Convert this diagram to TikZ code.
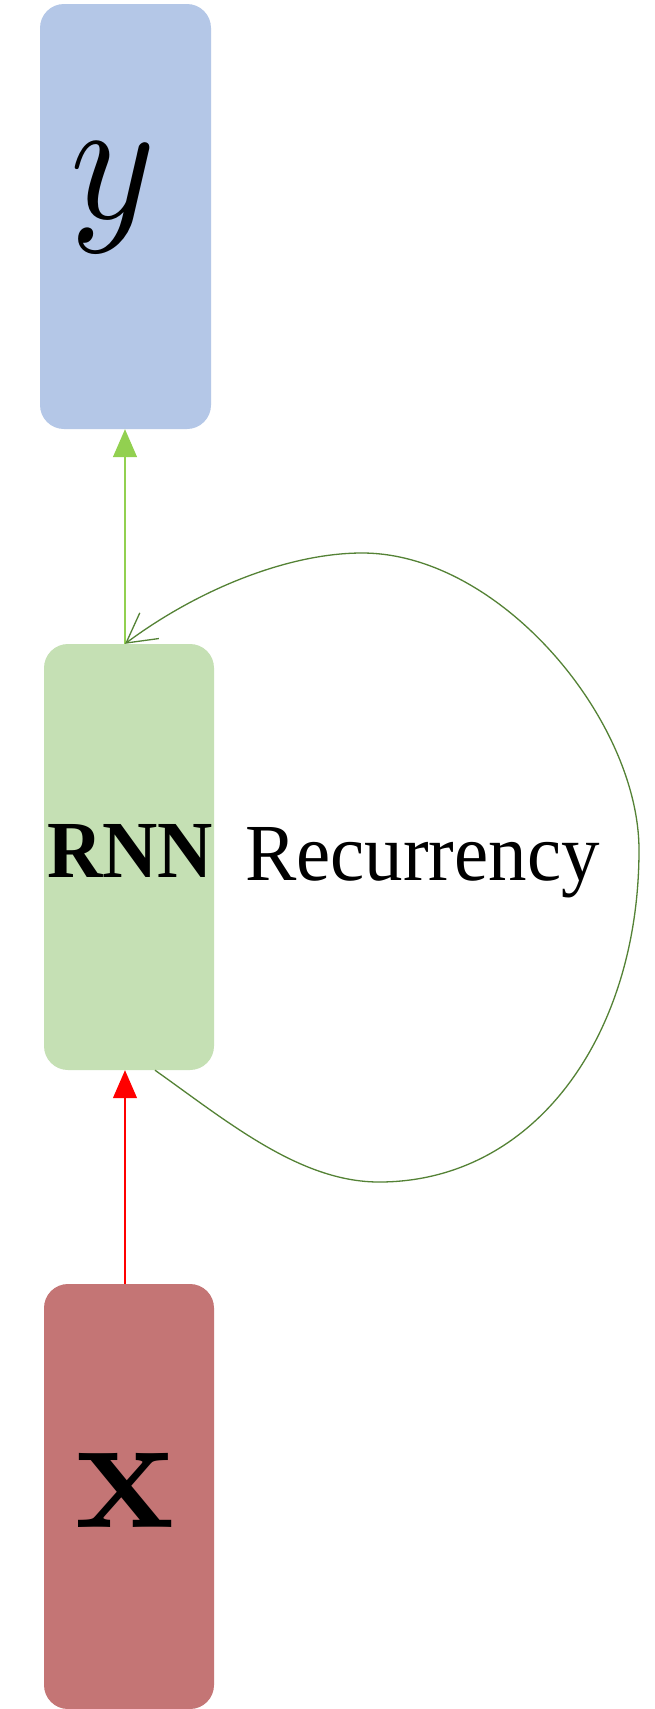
\documentclass[tikz,border=0pt]{standalone}
\usepackage{fontspec}
\setmainfont{Liberation Serif}
\newfontfamily\lmroman{Latin Modern Roman}
\newfontfamily\lmmath{Latin Modern Math}
\usetikzlibrary{arrows.meta}
\definecolor{ybox}{RGB}{180,199,231}
\definecolor{rnnbox}{RGB}{197,224,180}
\definecolor{xboxc}{RGB}{196,117,117}
\definecolor{lgreen}{RGB}{146,208,80}
\definecolor{dgreen}{RGB}{84,130,53}
\tikzset{
  unitbox/.style={rounded corners=24pt, inner sep=0pt, draw=none, minimum width=170pt, minimum height=425pt},
  lbl/.style={inner sep=0pt, text=black},
  uparrow/.style={line width=1.3pt, -{Triangle[length=28pt,width=24pt]}},
  recur/.style={draw=dgreen, line width=1.3pt, -{Straight Barb[length=29pt,width=32pt,line width=1.3pt]}}
}
\begin{document}
\begin{tikzpicture}[x=1pt,y=-1pt]
\useasboundingbox (0,0) rectangle (655,1709);
\fill[white] (0,0) rectangle (655,1709);
% boxes
\node[unitbox, fill=ybox, minimum width=171pt] (yb) at (125.5,216.5) {};
\node[unitbox, fill=rnnbox, minimum height=426pt] (rnn) at (129,857) {};
\node[unitbox, fill=xboxc] (xb) at (129,1496.5) {};
% labels
\node[lbl] (ylbl) at (110,198) {\scalebox{0.92}[1]{\fontsize{176}{176}\selectfont\lmmath\symbol{"1D466}}};
\node[lbl, anchor=base] (rnnlbl) at (130,877) {\scalebox{0.945}[1]{\fontsize{81}{81}\selectfont\bfseries RNN}};
\node[lbl, anchor=base west] (reclbl) at (245,880) {\scalebox{0.95}[1]{\fontsize{81}{81}\selectfont Recurrency}};
\node[lbl, anchor=base] (xlbl) at (125,1527) {\fontsize{167}{167}\selectfont\lmroman\bfseries x};
% connectors
\draw[uparrow, draw=lgreen, fill=lgreen] ([xshift=-4pt]rnn.north) -- ([xshift=-0.5pt]yb.south);
\draw[uparrow, draw=red, fill=red] ([xshift=-4pt]xb.north) -- ([xshift=-4pt]rnn.south);
\coordinate (cb) at (379,1182);
\coordinate (cr) at (639,850);
\coordinate (ct) at (362,553);
\draw[recur] ([xshift=26pt]rnn.south)
  .. controls (228,1122) and (300,1182) .. (cb)
  .. controls (535,1182) and (639,1035) .. (cr)
  .. controls (639,720) and (500,553) .. (ct)
  .. controls (290,553) and (200,588) .. ([xshift=-4pt]rnn.north);
\end{tikzpicture}
\end{document}
